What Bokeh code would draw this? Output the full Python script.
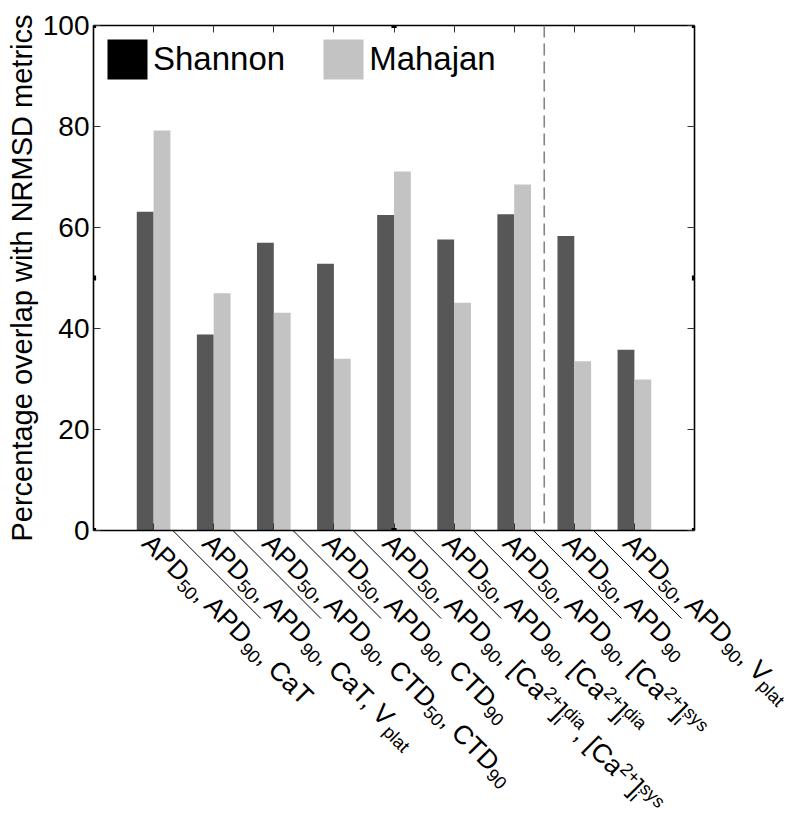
import math
import re
from bokeh.plotting import figure
from bokeh.layouts import column
from bokeh.core.properties import value
from bokeh.models import (LinearAxis, FixedTicker, Span, Legend, LegendItem, LabelSet, Title,
                          ColumnDataSource, BoxAnnotation, Range1d)
from bokeh.embed import file_html
from bokeh.resources import INLINE

# ---------------- data ----------------
categories = [
    "APD_{50}, APD_{90}, CaT",
    "APD_{50}, APD_{90}, CaT, V_{plat}",
    "APD_{50}, APD_{90}, CTD_{50}, CTD_{90}",
    "APD_{50}, APD_{90}, CTD_{90}",
    "APD_{50}, APD_{90}, [Ca^{2+}]_{i}^{dia}, [Ca^{2+}]_{i}^{sys}",
    "APD_{50}, APD_{90}, [Ca^{2+}]_{i}^{dia}",
    "APD_{50}, APD_{90}, [Ca^{2+}]_{i}^{sys}",
    "APD_{50}, APD_{90}",
    "APD_{50}, APD_{90}, V_{plat}",
]
shannon = [63.1, 38.8, 57.0, 52.8, 62.5, 57.6, 62.6, 58.3, 35.8]
mahajan = [79.2, 47.0, 43.1, 34.0, 71.1, 45.1, 68.5, 33.5, 29.9]
series_names = ["Shannon", "Mahajan"]
y_ticks = [0, 20, 40, 60, 80, 100]
y_label = "Percentage overlap with NRMSD metrics"
divider_after = 7  # dashed line between group 7 and group 8

# ---------------- styles ----------------
FONT = "Liberation Sans"
DARK, LIGHT = "#575757", "#c3c3c3"
LEFT, TOP, BOT, EXTRA = 93, 25, 16, 10
FW, FH = 601, 505
X0, X1 = 0, len(categories) + 1
Y0, Y1 = 0, 100
PXX = FW / (X1 - X0)
PXY = FH / (Y1 - Y0)
BW = 0.28

positions = list(range(1, len(categories) + 1))
x_dark = [k - BW / 2 for k in positions]
x_light = [k + BW / 2 for k in positions]

p = figure(frame_width=FW, frame_height=FH,
           x_range=Range1d(X0, X1), y_range=Range1d(Y0, Y1),
           output_backend="svg", toolbar_location=None,
           min_border_left=LEFT, min_border_top=TOP, min_border_right=95, min_border_bottom=BOT)
p.xgrid.visible = False
p.ygrid.visible = False
p.outline_line_color = None
p.background_fill_color = "white"

src = ColumnDataSource(dict(xd=x_dark, xl=x_light, s=shannon, m=mahajan))
p.vbar(x="xd", top="s", width=BW, bottom=0, source=src, fill_color=DARK, line_color=None)
p.vbar(x="xl", top="m", width=BW, bottom=0, source=src, fill_color=LIGHT, line_color=None)

# legend proxies (not drawn in the frame)
nan = float("nan")
r1 = p.vbar(x=[nan], top=[nan], width=BW, fill_color="black", line_color=None)
r2 = p.vbar(x=[nan], top=[nan], width=BW, fill_color=LIGHT, line_color=None)
legend = Legend(items=[LegendItem(label=series_names[0], renderers=[r1]),
                       LegendItem(label=series_names[1], renderers=[r2])],
                location="top_left", orientation="horizontal",
                glyph_width=50, glyph_height=50, label_standoff=1, spacing=33,
                padding=0, margin=9, border_line_color=None, background_fill_alpha=0,
                label_text_font=FONT, label_text_font_size="33px", label_text_color="black")
p.add_layout(legend)

# dashed divider
p.add_layout(Span(location=divider_after + 0.5, dimension="height", line_color="#858585",
                  line_width=1.6, line_dash="12 6"))

def style_axis(ax, ticks, labels):
    ax.ticker = FixedTicker(ticks=ticks)
    ax.major_tick_in = 7
    ax.major_tick_out = 0
    ax.minor_tick_line_color = None
    ax.axis_line_width = 1.6
    ax.axis_line_color = "black"
    ax.major_tick_line_color = "#333333"
    ax.major_tick_line_width = 1
    if labels:
        ax.major_label_text_font = FONT
        ax.major_label_text_font_size = "28px"
        ax.major_label_text_color = "black"
        ax.major_label_standoff = 4
    else:
        ax.major_label_text_font_size = "1px"
        ax.major_label_text_color = None
        ax.major_label_standoff = 0

style_axis(p.xaxis[0], positions, False)
style_axis(p.yaxis[0], y_ticks, True)
top_ax = LinearAxis()
style_axis(top_ax, positions, False)
p.add_layout(top_ax, "above")
right_ax = LinearAxis()
style_axis(right_ax, y_ticks, False)
p.add_layout(right_ax, "right")

# y-axis title
p.add_layout(Title(text=y_label, align="center", text_font=FONT, text_font_size="29px",
                   text_font_style="normal", text_color="black", standoff=3), "left")

# corner / mid squares on the frame
hx, hy = 2.6 / PXX, 2.6 / PXY
for xx in (X0, (X0 + X1) / 2, X1):
    for yy in (Y0, (Y0 + Y1) / 2, Y1):
        if xx == (X0 + X1) / 2 and yy == (Y0 + Y1) / 2:
            continue
        p.add_layout(BoxAnnotation(left=xx - hx, right=xx + hx, bottom=yy - hy, top=yy + hy,
                                   fill_color="black", fill_alpha=1, line_color=None))

# ---------------- category label strip (same x scale, y in pixels) ----------------
LW, LH = 700, 296
q = figure(frame_width=LW, frame_height=LH,
           x_range=Range1d(X0, X0 + LW / PXX), y_range=Range1d(-LH + EXTRA, EXTRA),
           output_backend="svg", toolbar_location=None,
           x_axis_location=None, y_axis_location=None,
           min_border_left=LEFT, min_border_top=0, min_border_right=0, min_border_bottom=0)
q.xgrid.visible = False
q.ygrid.visible = False
q.outline_line_color = None
q.background_fill_alpha = 0
q.border_fill_alpha = 0
q.margin = (-(BOT + EXTRA), 0, 0, 0)

SEP_DX = 0.32
SEP_LEN = 88
sx0 = [k + SEP_DX for k in positions[:-1]]
q.segment(x0=sx0, y0=[0] * len(sx0), x1=[v + SEP_LEN / PXX for v in sx0],
          y1=[-SEP_LEN] * len(sx0), line_color="black", line_width=1)

WID = {'A': 667, 'P': 667, 'D': 722, 'C': 722, 'T': 611, 'V': 667, '0': 556, '2': 556,
       '5': 556, '9': 556, ',': 278, ' ': 278, 'a': 556, 'p': 556, 'l': 222, 't': 278,
       '[': 278, ']': 278, '+': 584, 'i': 222, 'd': 556, 's': 500, 'y': 500}

def tw(s, size):
    return sum(WID.get(c, 556) for c in s) * size / 1000.0

def runs(label):
    out = []
    for sub, sup, normal in re.findall(r'_\{([^}]*)\}|\^\{([^}]*)\}|([^_^]+)', label):
        if normal:
            out.append(("n", normal))
        elif sub:
            out.append(("sub", sub))
        else:
            out.append(("sup", sup))
    return out

MAIN, SMALL = 26.5, 18
SHIFT = {"n": 0, "sub": -5, "sup": 9}
OX, OY = -13.0, 14.5   # baseline start relative to tick, px (right, down)
R = math.sqrt(0.5)
big = dict(x=[], y=[], t=[])
small = dict(x=[], y=[], t=[])

def place(d, k, pos, shift, txt):
    dx = OX + R * (pos + shift)
    dy = OY + R * (pos - shift)
    d["x"].append(k + dx / PXX)
    d["y"].append(-dy)
    d["t"].append(txt)

for k, lab in zip(positions, categories):
    toks = runs(lab)
    pos = 0.0
    i = 0
    while i < len(toks):
        kind, txt = toks[i]
        if kind == "n":
            place(big, k, pos, 0, txt)
            pos += tw(txt, MAIN)
        elif kind == "sub" and i + 1 < len(toks) and toks[i + 1][0] == "sup":
            place(small, k, pos, SHIFT["sub"], txt)
            place(small, k, pos, SHIFT["sup"], toks[i + 1][1])
            pos += max(tw(txt, SMALL), tw(toks[i + 1][1], SMALL))
            i += 1
        else:
            place(small, k, pos, SHIFT[kind], txt)
            pos += tw(txt, SMALL)
        i += 1

for d, size in ((big, MAIN), (small, SMALL)):
    q.add_layout(LabelSet(x="x", y="y", text="t", source=ColumnDataSource(d),
                          angle=-math.pi / 4, text_align="left", text_baseline="alphabetic",
                          text_font=value(FONT), text_font_size=value(f"{size}px"),
                          text_color="black"))

layout = column(p, q, spacing=0)
open("out.html", "w").write(file_html(layout, INLINE))
